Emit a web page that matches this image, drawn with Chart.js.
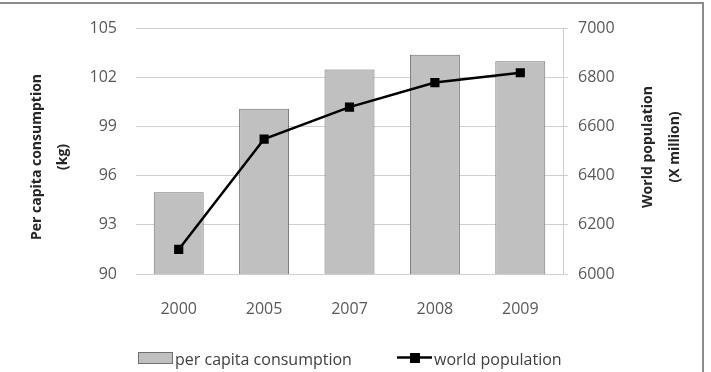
<!DOCTYPE html>
<html>
<head>
<meta charset="utf-8">
<script src="https://cdn.jsdelivr.net/npm/chart.js@4"></script>
<style>
  html, body { margin: 0; padding: 0; background: #fff; }
  #wrap { position: relative; width: 711px; height: 372px; }
  #frame { position: absolute; left: 0; top: 2px; width: 702px; height: 380px;
           border-top: 2px solid #8c8c8c; border-right: 2px solid #8c8c8c; pointer-events: none; }
</style>
</head>
<body>
<div id="wrap">
  <canvas id="chart" width="711" height="372"></canvas>
  <div id="frame"></div>
</div>
<script>
const years = ['2000', '2005', '2007', '2008', '2009'];
const consumption = [95.0, 100.1, 102.5, 103.4, 103.0];   // kg per capita
const population = [6100, 6550, 6680, 6780, 6820];        // million
const leftTitle = ['Per capita consumption', '(kg)'];
const rightTitle = ['World population', '(X million)'];
const legendLabels = ['per capita consumption', 'world population'];

const FONT = "'Open Sans', sans-serif";
const GRID = '#d0d0d0';
const TXT = '#595959';
const BAR = '#c0c0c0', BAR_EDGE = '#707070';

// axis titles (both read bottom-to-top) + custom legend
const extras = {
  id: 'extras',
  afterDraw(chart) {
    const g = chart.ctx;
    g.save();
    g.fillStyle = '#262626';
    g.font = 'bold 14px ' + FONT;
    g.textAlign = 'center';
    g.textBaseline = 'middle';
    const vtext = (lines, xs, y) => lines.forEach((t, i) => {
      g.save(); g.translate(xs[i], y); g.rotate(-Math.PI / 2); g.fillText(t, 0, 0); g.restore();
    });
    vtext(leftTitle, [37, 63], 157);
    vtext(rightTitle, [648, 675], 147);

    // legend
    g.font = '16px ' + FONT;
    g.textAlign = 'left';
    g.fillStyle = BAR; g.fillRect(138.5, 352.5, 34, 11);
    g.strokeStyle = BAR_EDGE; g.lineWidth = 1; g.strokeRect(138.5, 352.5, 34, 11);
    g.fillStyle = '#404040';
    g.fillText(legendLabels[0], 175, 360);
    g.strokeStyle = '#000'; g.lineWidth = 2.5;
    g.beginPath(); g.moveTo(397, 357.5); g.lineTo(432, 357.5); g.stroke();
    g.fillStyle = '#000'; g.fillRect(410, 353, 10, 10);
    g.fillStyle = '#404040';
    g.fillText(legendLabels[1], 434, 360);
    g.restore();
  },
};

new Chart(document.getElementById('chart'), {
  data: {
    labels: years,
    datasets: [
      { type: 'line', label: legendLabels[1], data: population, yAxisID: 'y2',
        borderColor: '#000', backgroundColor: '#000', borderWidth: 2.5,
        pointStyle: 'rect', pointRadius: 6.5, pointBorderWidth: 0, tension: 0, order: 0 },
      { type: 'bar', label: legendLabels[0], data: consumption, yAxisID: 'y',
        backgroundColor: BAR, borderColor: BAR_EDGE, borderWidth: 1,
        categoryPercentage: 1, barPercentage: 0.585, order: 1 },
    ],
  },
  options: {
    responsive: false, animation: false,
    layout: { padding: { left: 0, right: 0, top: 23, bottom: 48 } },
    plugins: { legend: { display: false }, tooltip: { enabled: false } },
    scales: {
      x: {
        grid: { display: false, drawTicks: false }, border: { display: false },
        ticks: { color: TXT, font: { family: FONT, size: 16 }, padding: 26 },
        afterFit: (s) => { s.height = 50; },
      },
      y: {
        position: 'left', min: 90, max: 105,
        grid: { color: GRID, drawTicks: false }, border: { display: false },
        ticks: { stepSize: 3, color: TXT, font: { family: FONT, size: 16 }, padding: 19 },
        afterFit: (s) => { s.width = 136; },
      },
      y2: {
        position: 'right', min: 6000, max: 7000,
        grid: { drawOnChartArea: false, drawTicks: true, tickLength: 5, color: GRID },
        border: { display: true, color: GRID },
        ticks: { stepSize: 200, color: TXT, font: { family: FONT, size: 16 }, padding: 10,
                 callback: (v) => String(v) },
        afterFit: (s) => { s.width = 148; },
      },
    },
  },
  plugins: [extras],
});
</script>
</body>
</html>
